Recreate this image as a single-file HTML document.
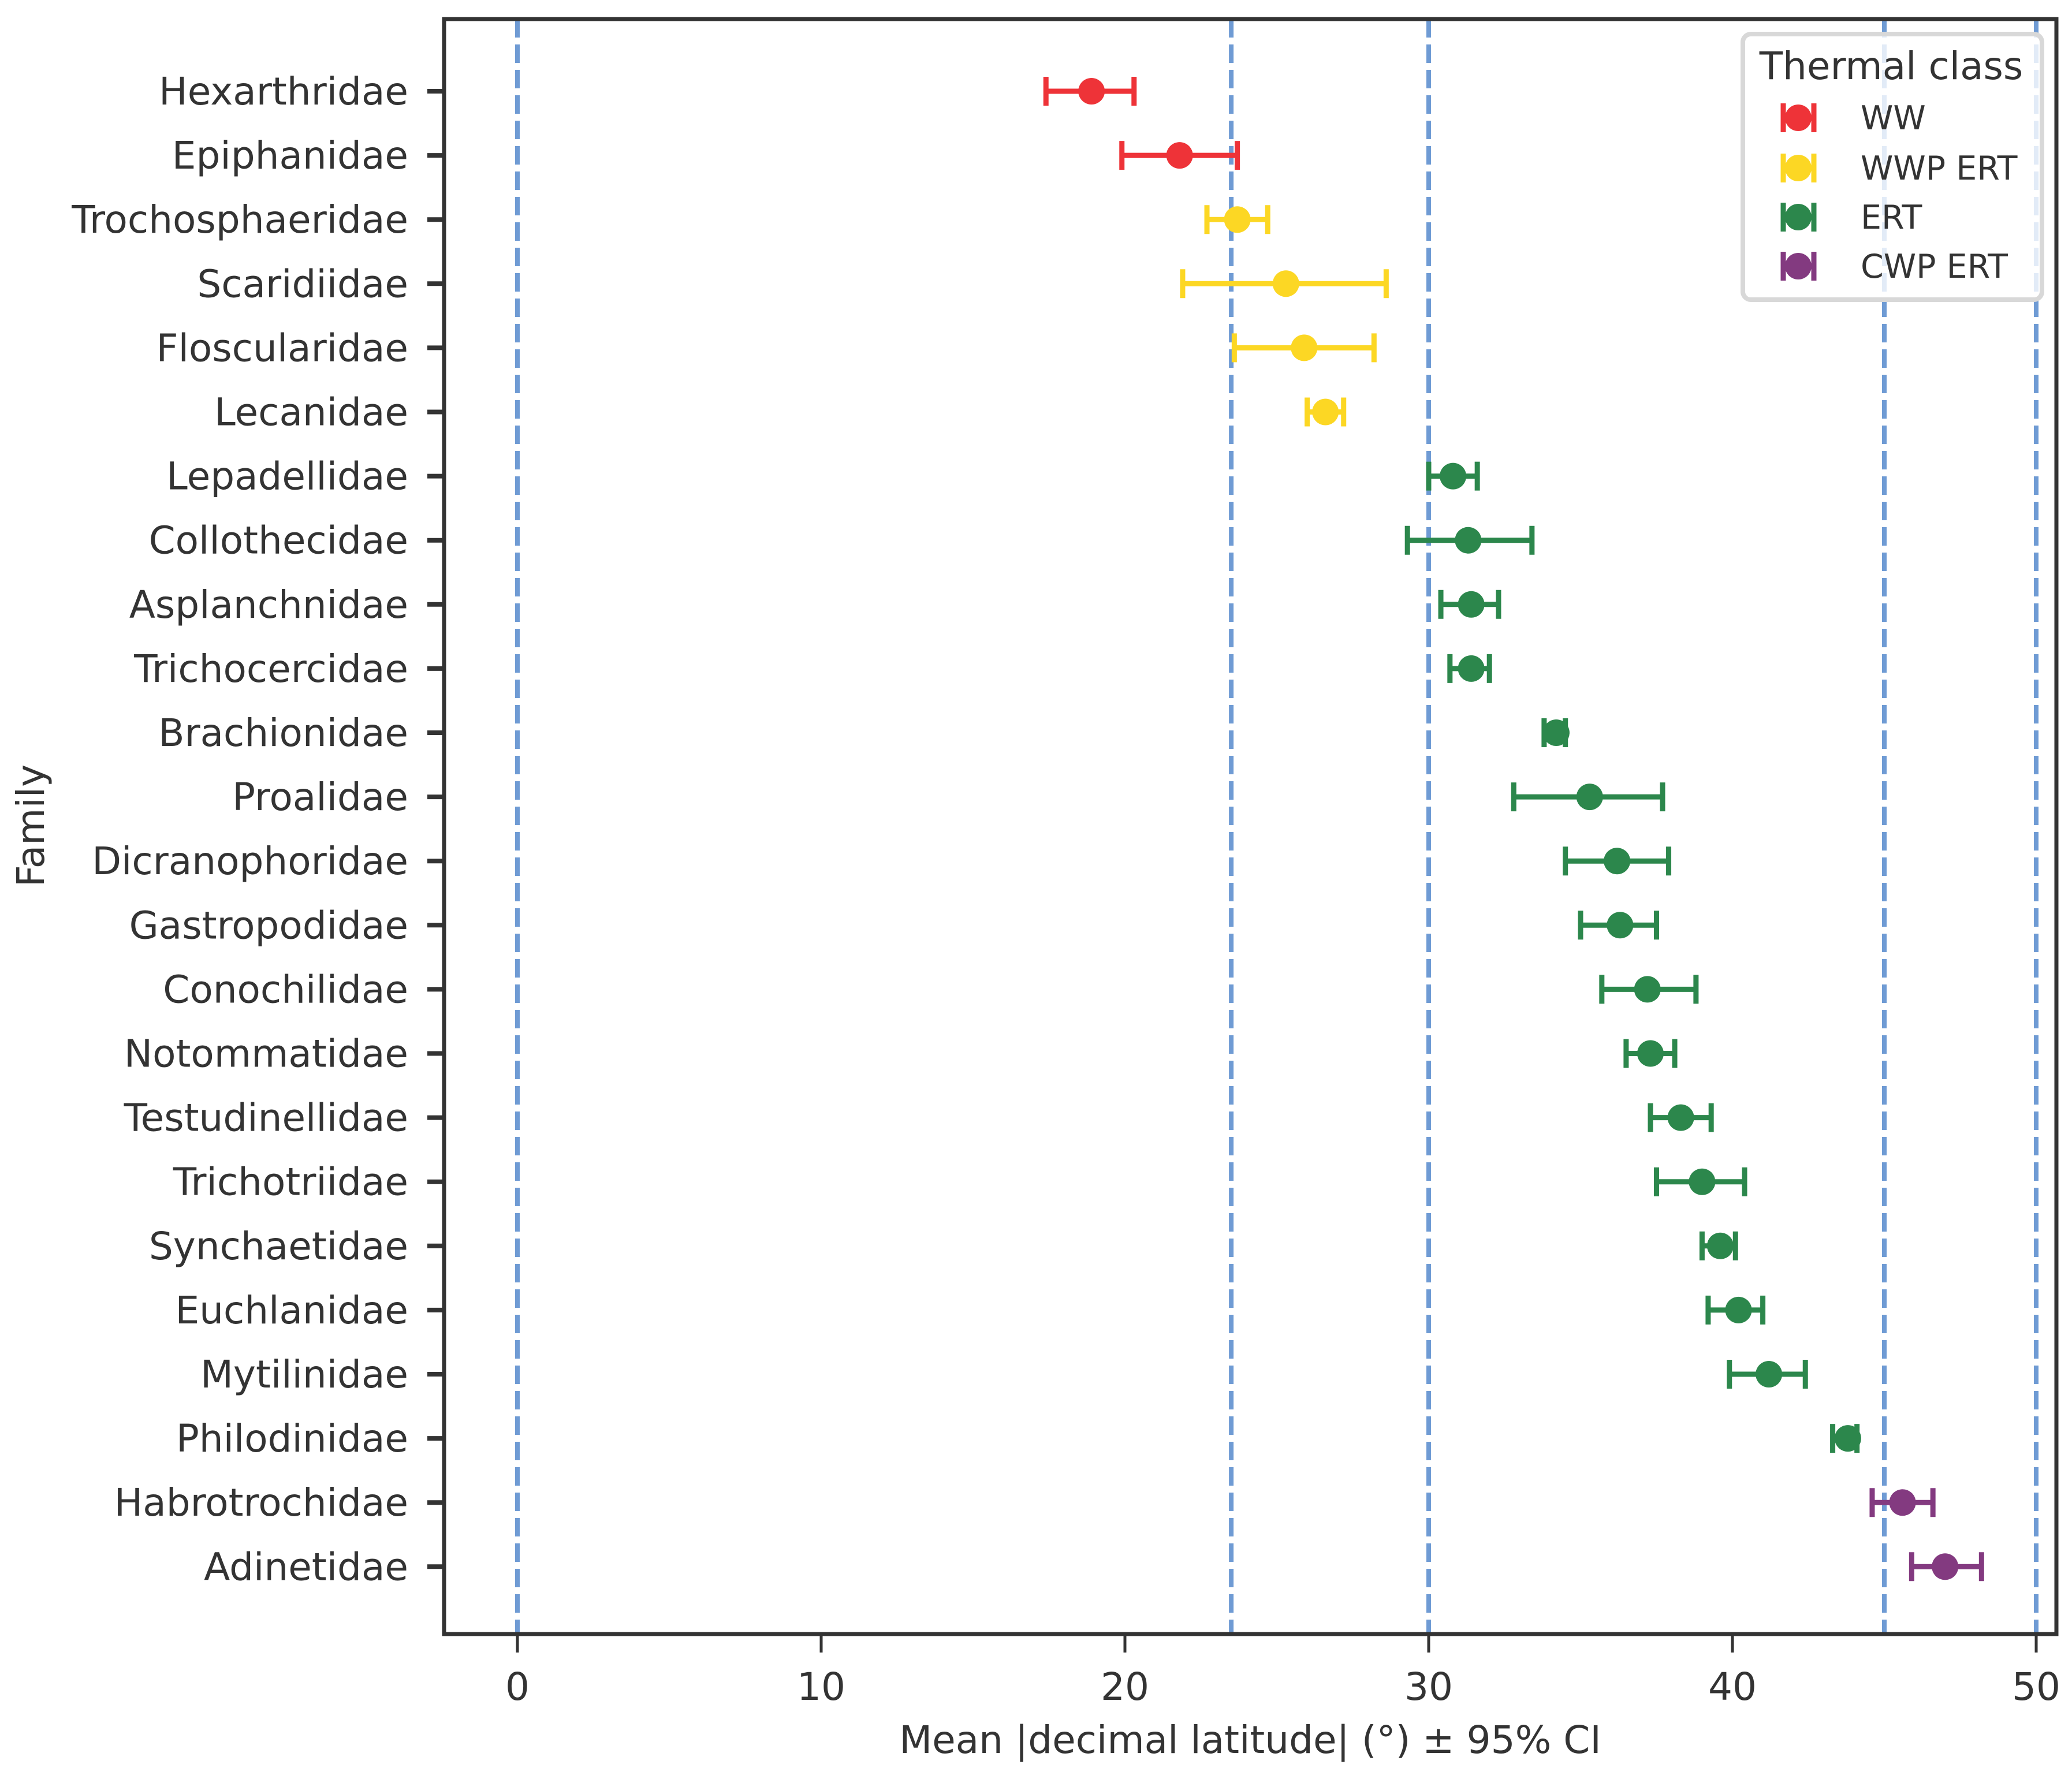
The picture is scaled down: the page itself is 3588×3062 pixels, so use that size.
<!DOCTYPE html>
<html><head><meta charset="utf-8"><style>
html,body{margin:0;padding:0;background:#fff;}
svg{display:block;font-family:"DejaVu Sans","Liberation Sans",sans-serif;}
</style></head><body>
<svg id="chart" width="3588" height="3062" viewBox="0 0 3588 3062" xmlns="http://www.w3.org/2000/svg">
<rect x="0" y="0" width="3588" height="3062" fill="#fff"/>
<g id="refs"></g>
<g id="marks"></g>
<rect x="769" y="33" width="2792" height="2797" fill="none" stroke="#333" stroke-width="7"/>
<g id="yaxis"></g>
<g id="xaxis"></g>
<text x="2165" y="3036" font-size="66" fill="#333" text-anchor="middle">Mean |decimal latitude| (°) ± 95% CI</text>
<text x="0" y="0" font-size="66" fill="#333" text-anchor="middle" transform="translate(76,1430) rotate(-90)">Family</text>
<g id="legend">
<rect x="3018" y="59" width="518" height="460" rx="14" fill="#fff" fill-opacity="0.8" stroke="#d8d8d8" stroke-width="8"/>
<text x="3275" y="137" font-size="66" fill="#333" text-anchor="middle">Thermal class</text>
</g>
</svg>
<script>
const families = ["Hexarthridae","Epiphanidae","Trochosphaeridae","Scaridiidae","Floscularidae","Lecanidae","Lepadellidae","Collothecidae","Asplanchnidae","Trichocercidae","Brachionidae","Proalidae","Dicranophoridae","Gastropodidae","Conochilidae","Notommatidae","Testudinellidae","Trichotriidae","Synchaetidae","Euchlanidae","Mytilinidae","Philodinidae","Habrotrochidae","Adinetidae"];
const means = [18.9,21.8,23.7,25.3,25.9,26.6,30.8,31.3,31.4,31.4,34.2,35.3,36.2,36.3,37.2,37.3,38.3,39.0,39.6,40.2,41.2,43.8,45.6,47.0];
const ciLow = [17.4,19.9,22.7,21.9,23.6,26.0,30.0,29.3,30.4,30.7,33.8,32.8,34.5,35.0,35.7,36.5,37.3,37.5,39.0,39.2,39.9,43.3,44.6,45.9];
const ciHigh = [20.3,23.7,24.7,28.6,28.2,27.2,31.6,33.4,32.3,32.0,34.5,37.7,37.9,37.5,38.8,38.1,39.3,40.4,40.1,41.0,42.4,44.1,46.6,48.2];
const classes = ["WW","WW","WWP ERT","WWP ERT","WWP ERT","WWP ERT","ERT","ERT","ERT","ERT","ERT","ERT","ERT","ERT","ERT","ERT","ERT","ERT","ERT","ERT","ERT","ERT","CWP ERT","CWP ERT"];
const classNames = ["WW","WWP ERT","ERT","CWP ERT"];
const classColors = ["#ee3338","#fcd724","#2c874c","#833a80"];
const xTicks = [0,10,20,30,40,50];
const refLines = [0,23.5,30,45,50];

const NS="http://www.w3.org/2000/svg";
const X = v => 896 + v*52.6;
const Y = i => 158 + i*111.1;
function mk(tag, attrs, parent){const e=document.createElementNS(NS,tag);for(const k in attrs)e.setAttribute(k,attrs[k]);parent.appendChild(e);return e;}
const refs=document.getElementById('refs'), marks=document.getElementById('marks'), yax=document.getElementById('yaxis'), xax=document.getElementById('xaxis'), leg=document.getElementById('legend');

refLines.forEach(v=>{
  const l=mk('line',{x1:X(v),x2:X(v),y1:33,y2:2830,stroke:'#6f9bd4','stroke-width':8,'stroke-dasharray':'32 12'},refs);
  
  
});

families.forEach((f,i)=>{
  const c=classColors[classNames.indexOf(classes[i])];
  const y=Y(i);
  const g=mk('g',{},marks);
  
  
  mk('line',{x1:X(ciLow[i]),x2:X(ciHigh[i]),y1:y,y2:y,stroke:c,'stroke-width':9},g);
  mk('line',{x1:X(ciLow[i]),x2:X(ciLow[i]),y1:y-25,y2:y+25,stroke:c,'stroke-width':9},g);
  mk('line',{x1:X(ciHigh[i]),x2:X(ciHigh[i]),y1:y-25,y2:y+25,stroke:c,'stroke-width':9},g);
  const p=mk('circle',{cx:X(means[i]),cy:y,r:23,fill:c},g);
  
  
  mk('line',{x1:740,x2:769,y1:y,y2:y,stroke:'#333','stroke-width':8},yax);
  const t=mk('text',{x:707,y:y+23,'font-size':66,fill:'#333','text-anchor':'end'},yax);
  t.textContent=f;
  
  
});

xTicks.forEach(v=>{
  mk('line',{x1:X(v),x2:X(v),y1:2830,y2:2862,stroke:'#333','stroke-width':5},xax);
  const t=mk('text',{x:X(v),y:2944,'font-size':66,fill:'#333','text-anchor':'middle'},xax);
  t.textContent=v;
  
  
});

classNames.forEach((n,k)=>{
  const y=[204,291,376,461][k], c=classColors[k];
  const g=mk('g',{},leg);
  
  
  mk('line',{x1:3088,x2:3141,y1:y,y2:y,stroke:c,'stroke-width':8},g);
  mk('line',{x1:3088,x2:3088,y1:y-25,y2:y+25,stroke:c,'stroke-width':9},g);
  mk('line',{x1:3141,x2:3141,y1:y-25,y2:y+25,stroke:c,'stroke-width':9},g);
  mk('circle',{cx:3114,cy:y,r:23,fill:c},g);
  const t=mk('text',{x:3222,y:y+20,'font-size':57,fill:'#333'},g);
  t.textContent=n;
});
</script>
</body></html>
